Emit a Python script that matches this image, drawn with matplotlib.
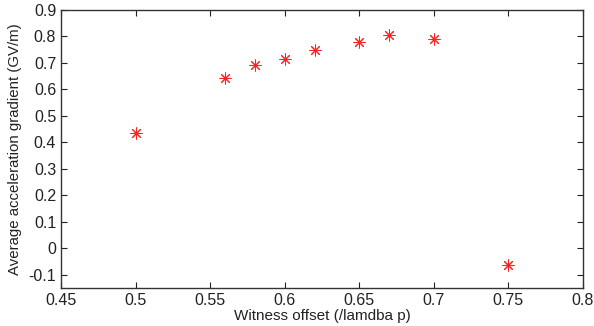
import matplotlib
matplotlib.use("Agg")
import matplotlib.pyplot as plt

offsets = [0.50, 0.56, 0.58, 0.60, 0.62, 0.65, 0.67, 0.70, 0.75]
gradients = [0.435, 0.645, 0.692, 0.716, 0.748, 0.779, 0.805, 0.792, -0.065]
xticks = [0.45, 0.5, 0.55, 0.6, 0.65, 0.7, 0.75, 0.8]
yticks = [-0.1, 0, 0.1, 0.2, 0.3, 0.4, 0.5, 0.6, 0.7, 0.8, 0.9]

plt.rcParams['font.family'] = ['Liberation Sans', 'DejaVu Sans']
fig = plt.figure(figsize=(5.94, 3.26), dpi=100)
ax = fig.add_axes([61/594, 1-288/326, (583-61)/594, (288-10)/326])
ax.plot(offsets, gradients, linestyle='none', marker=(8, 2, 0), color='#ff2020',
        markersize=8.5, markeredgewidth=0.75)
ax.set_xlim(0.45, 0.8)
ax.set_ylim(-0.15, 0.9)
ax.set_xticks(xticks)
ax.set_xticklabels([f"{t:g}" for t in xticks])
ax.set_yticks(yticks)
ax.set_yticklabels([f"{t:g}" for t in yticks])
ax.tick_params(direction='in', top=True, right=True, labelsize=11.5, length=4,
               width=0.8, colors='#222222', labelcolor='#222222')
for s in ax.spines.values():
    s.set_linewidth(1.0)
    s.set_color('#333333')
ax.set_xlabel('Witness offset (/lamdba p)', fontsize=11, color='#222222', labelpad=1)
ax.set_ylabel('Average acceleration gradient (GV/m)', fontsize=10.8, color='#222222', labelpad=5)
fig.savefig('out.png', dpi=100)
